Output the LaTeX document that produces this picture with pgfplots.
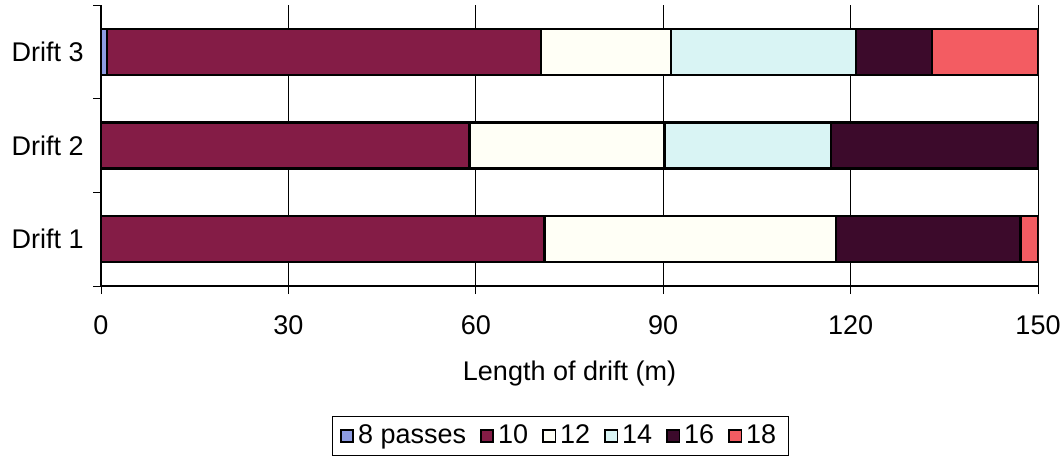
\documentclass[border=0pt]{standalone}
\usepackage{fontspec}
\setmainfont{Liberation Sans}
\usepackage{pgfplots}
\pgfplotsset{compat=1.18}

\definecolor{cEight}{HTML}{8E9CE2}
\definecolor{cTen}{HTML}{841C46}
\definecolor{cTwelve}{HTML}{FFFFF6}
\definecolor{cFourteen}{HTML}{D9F4F4}
\definecolor{cSixteen}{HTML}{3C0A2B}
\definecolor{cEighteen}{HTML}{F35C62}

\begin{document}
\fontsize{13.5}{16}\selectfont
\begin{tikzpicture}
\useasboundingbox (0,0) rectangle (532pt,230.5pt);
\begin{axis}[
  at={(50.5pt,87.5pt)}, anchor=south west,
  scale only axis,
  width=468.5pt, height=140.5pt,
  xbar stacked,
  bar width=23pt,
  xmin=0, xmax=150,
  ymin=-0.5, ymax=2.5,
  xtick={0,30,60,90,120,150},
  ytick={0,1,2},
  yticklabels={Drift 1,Drift 2,Drift 3},
  minor ytick={-0.5,0.5,1.5,2.5},
  major y tick style={draw=none},
  minor tick length=4pt,
  major tick length=4pt,
  tick align=outside,
  tick style={black, line width=0.5pt},
  axis x line*=bottom,
  axis y line*=left,
  axis line style={-, black, line width=0.6pt},
  xmajorgrids,
  grid style={black, line width=0.5pt},
  /pgf/number format/assume math mode=true,
  ticklabel style={font=\fontsize{13.5}{16}\selectfont},
  yticklabel style={xshift=0pt},
  xticklabel style={yshift=-6pt},
  xlabel={Length of drift (m)},
  xlabel style={at={(axis description cs:0.5,0)}, anchor=center, yshift=-44pt, font=\fontsize{13.5}{16}\selectfont},
  legend columns=-1,
  legend style={at={(axis description cs:0.49,0)}, anchor=north, yshift=-65pt,
    draw=black, line width=0.5pt, inner xsep=4pt, inner ysep=2pt,
    font=\fontsize{13.5}{16}\selectfont,
    /tikz/every even column/.append style={column sep=5pt}},
  legend image code/.code={\draw[#1, line width=0.8pt] (0pt,-3.1pt) rectangle (6.2pt,3.1pt);},
  every axis plot/.append style={draw=black, line width=1.1pt},
]
\addplot[fill=cEight] coordinates {(0,0) (0,1) (1,2)};
\addplot[fill=cTen] coordinates {(71,0) (59,1) (69.5,2)};
\addplot[fill=cTwelve] coordinates {(46.7,0) (31.2,1) (20.8,2)};
\addplot[fill=cFourteen] coordinates {(0,0) (26.7,1) (29.5,2)};
\addplot[fill=cSixteen] coordinates {(29.5,0) (33.1,1) (12.2,2)};
\addplot[fill=cEighteen] coordinates {(2.8,0) (0,1) (17,2)};
\legend{8 passes,10,12,14,16,18}
\end{axis}
\end{tikzpicture}
\end{document}
